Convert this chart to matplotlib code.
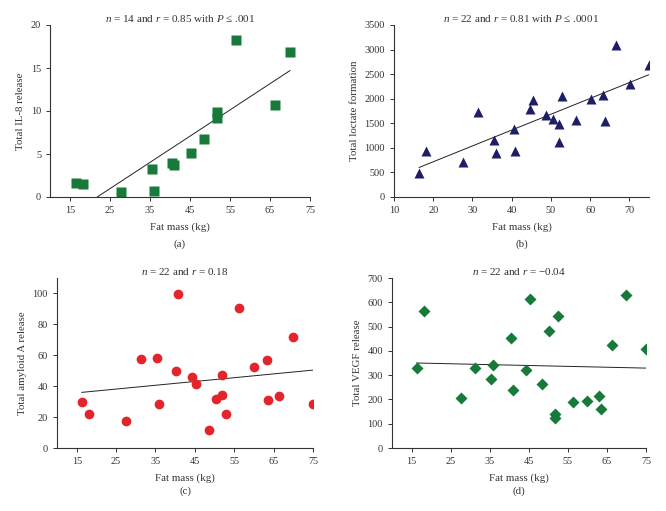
import matplotlib
matplotlib.use("Agg")
import matplotlib.pyplot as plt

plt.rcParams['font.family'] = ['Liberation Serif', 'DejaVu Serif']
plt.rcParams['mathtext.fontset'] = 'custom'
plt.rcParams['mathtext.rm'] = 'Liberation Serif'
plt.rcParams['mathtext.it'] = 'Liberation Serif:italic'

# ====== DATA ====== #
# (a) IL-8
fat_a = [16.5, 18.3, 27.7, 35.4, 36.0, 40.4, 40.9, 45.3, 48.6, 51.8, 51.8, 56.4, 66.3, 70.0]
il8 = [1.66, 1.5, 0.54, 3.28, 0.66, 4.0, 3.75, 5.1, 6.8, 9.9, 9.15, 18.2, 10.7, 16.9]
fit_a_x = [21.8, 70.0]
fit_a_y = [0.0, 14.7]

# (b) lactate
fat_b = [16.4, 18.2, 27.7, 31.4, 35.4, 35.9, 40.5, 40.9, 44.6, 45.5, 48.7,
         50.5, 52.0, 52.0, 52.9, 56.5, 60.1, 63.4, 63.9, 66.5, 70.1, 75.0]
lactate = [493, 939, 709, 1723, 1169, 892, 1385, 932, 1784, 1966, 1669,
           1581, 1486, 1115, 2047, 1568, 1993, 2068, 1541, 3088, 2304, 2696]
fit_b_x = [16.4, 75.0]
fit_b_y = [601, 2490]

# (c) amyloid A
fat_c = [16.3, 18.1, 27.6, 31.3, 35.3, 35.8, 40.3, 40.8, 44.3, 45.3, 48.5,
         50.3, 51.8, 51.8, 52.8, 56.3, 60.0, 63.3, 63.7, 66.4, 70.0, 75.0]
amyloid = [29.5, 22.2, 17.5, 57.8, 58.4, 28.7, 50.0, 99.4, 46.1, 41.2, 11.4,
           31.9, 34.5, 47.0, 22.2, 90.5, 52.1, 57.1, 31.0, 33.4, 71.9, 28.5]
fit_c_x = [16.3, 75.0]
fit_c_y = [36.0, 50.4]

# (d) VEGF
fat_d = [16.3, 18.1, 27.6, 31.2, 35.3, 35.9, 40.4, 40.9, 44.4, 45.3, 48.5,
         50.3, 51.8, 51.8, 52.6, 56.3, 60.0, 63.1, 63.5, 66.3, 70.0, 75.0]
vegf = [329, 564, 207, 331, 284, 342, 454, 237, 321, 615, 262,
        480, 141, 125, 542, 191, 194, 213, 159, 425, 630, 406]
fit_d_x = [16.3, 75.0]
fit_d_y = [350, 329]

green = '#177a3a'
navy = '#1e1e66'
red = '#e3242b'

fig = plt.figure(figsize=(6.66, 5.11), dpi=100)
W, H = 666, 511


def make_ax(l, t, r, b):
    ax = fig.add_axes([l / W, 1 - b / H, (r - l) / W, (b - t) / H])
    for s in ['top', 'right']:
        ax.spines[s].set_visible(False)
    for s in ['left', 'bottom']:
        ax.spines[s].set_linewidth(0.8)
        ax.spines[s].set_color('#333333')
    ax.tick_params(labelsize=7.4, length=3, width=0.7, colors='#333333', labelcolor='#333333')
    return ax


def style(ax, title, ylabel, label, lab_y):
    ax.set_title(title, fontsize=8, color='#333333', pad=2)
    ax.set_xlabel('Fat mass (kg)', fontsize=7.8, color='#333333', labelpad=5)
    ax.set_ylabel(ylabel, fontsize=7.8, color='#333333', labelpad=4)
    ax.text(0.5, lab_y, label, transform=ax.transAxes, ha='center', va='center',
            fontsize=7.8, color='#333333')


# (a)
ax = make_ax(50, 25, 310, 197)
ax.plot(fit_a_x, fit_a_y, color='#222222', lw=0.7)
ax.plot(fat_a, il8, 's', color=green, ms=6.5, mec='none')
ax.set_xlim(10, 75)
ax.set_ylim(0, 20)
ax.set_xticks([15, 25, 35, 45, 55, 65, 75])
ax.set_yticks([0, 5, 10, 15, 20])
style(ax, r'$n$ = 14 and $r$ = 0.85 with $P$ ≤ .001', 'Total IL-8 release', '(a)', -0.275)

# (b)
ax = make_ax(394, 25, 649, 197)
ax.plot(fit_b_x, fit_b_y, color='#222222', lw=0.7)
ax.plot(fat_b, lactate, '^', color=navy, ms=7.5, mec='none')
ax.set_xlim(10, 75)
ax.set_ylim(0, 3500)
ax.set_xticks([10, 20, 30, 40, 50, 60, 70])
ax.set_yticks(range(0, 3501, 500))
style(ax, r'$n$ = 22 and $r$ = 0.81 with $P$ ≤ .0001', 'Total loctate formation', '(b)', -0.275)

# (c)
ax = make_ax(57, 278, 313, 448)
ax.plot(fit_c_x, fit_c_y, color='#222222', lw=0.7)
ax.plot(fat_c, amyloid, 'o', color=red, ms=7, mec='none')
ax.set_xlim(10, 75)
ax.set_ylim(0, 110)
ax.set_xticks([15, 25, 35, 45, 55, 65, 75])
ax.set_yticks([0, 20, 40, 60, 80, 100])
style(ax, r'$n$ = 22 and $r$ = 0.18', 'Total amyloid A release', '(c)', -0.255)

# (d)
ax = make_ax(392, 278, 646, 448)
ax.plot(fit_d_x, fit_d_y, color='#222222', lw=0.7)
ax.plot(fat_d, vegf, 'D', color=green, ms=6, mec='none')
ax.set_xlim(10, 75)
ax.set_ylim(0, 700)
ax.set_xticks([15, 25, 35, 45, 55, 65, 75])
ax.set_yticks(range(0, 701, 100))
style(ax, r'$n$ = 22 and $r$ = −0.04', 'Total VEGF release', '(d)', -0.255)

fig.savefig('out.png', dpi=100)
